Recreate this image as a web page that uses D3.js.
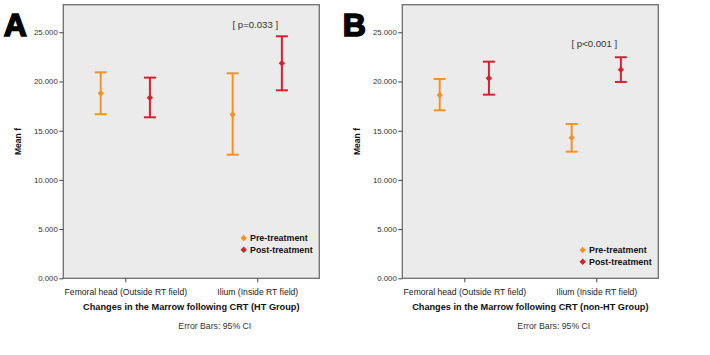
<!DOCTYPE html>
<html><head><meta charset="utf-8">
<script src="https://cdn.jsdelivr.net/npm/d3@7"></script>
<style>
html,body{margin:0;padding:0;background:#fff;}
svg{display:block;font-family:"Liberation Sans",Arial,sans-serif;}
</style></head>
<body><svg id="chart" width="710" height="355"></svg>
<script>
// ---- data ----
const categories = ["Femoral head (Outside RT field)", "Ilium (Inside RT field)"];
const seriesNames = ["Pre-treatment", "Post-treatment"];
const yTicks = [0, 5, 10, 15, 20, 25];
const panelLetters = ["A", "B"];
const panelTitles = ["Changes in the Marrow following CRT (HT Group)", "Changes in the Marrow following CRT (non-HT Group)"];
const pLabels = ["[ p=0.033 ]", "[ p<0.001 ]"];
// Panel A (HT group): [femoral, ilium]
const aPreMean = [18.8, 16.65];
const aPreLow  = [16.67, 12.56];
const aPreHigh = [20.93, 20.83];
const aPostMean = [18.35, 21.85];
const aPostLow  = [16.36, 19.1];
const aPostHigh = [20.39, 24.59];
// Panel B (non-HT group)
const bPreMean = [18.63, 14.29];
const bPreLow  = [17.07, 12.87];
const bPreHigh = [20.25, 15.68];
const bPostMean = [20.33, 21.2];
const bPostLow  = [18.66, 19.95];
const bPostHigh = [22.01, 22.46];

const colors = {"Pre-treatment": "#f39325", "Post-treatment": "#d81f30"};

const panels = [
  {letter: panelLetters[0], title: panelTitles[0], p: pLabels[0], left: 63.3, pGap: 8,
   series: [
     {name: seriesNames[0], mean: aPreMean, low: aPreLow, high: aPreHigh},
     {name: seriesNames[1], mean: aPostMean, low: aPostLow, high: aPostHigh}],
   legendY: 238},
  {letter: panelLetters[1], title: panelTitles[1], p: pLabels[1], left: 402.3, pGap: 10.5,
   series: [
     {name: seriesNames[0], mean: bPreMean, low: bPreLow, high: bPreHigh},
     {name: seriesNames[1], mean: bPostMean, low: bPostLow, high: bPostHigh}],
   legendY: 250}
];

const svg = d3.select("#chart");
const plotTop = 4.7, plotBottom = 278.3, W = 256;
const y = d3.scaleLinear().domain([0, 27.8]).range([plotBottom, plotTop]);
const diamond = d3.symbol().type(d3.symbolDiamond2).size(26);

panels.forEach(pn => {
  const L = pn.left, R = L + W;
  const g = svg.append("g");
  const x = d3.scalePoint().domain(categories).range([L, R]).padding(0.47);
  const xs = d3.scalePoint().domain(seriesNames).range([-24.6, 24.6]);

  g.append("rect").attr("x", L).attr("y", plotTop).attr("width", W).attr("height", plotBottom - plotTop)
    .attr("fill", "#ebebeb").attr("stroke", "#6e6e6e").attr("stroke-width", 1.3);

  // y axis
  const ya = g.append("g").attr("transform", `translate(${L},0)`)
    .call(d3.axisLeft(y).tickValues(yTicks).tickFormat(d3.format(".3f")).tickSize(4).tickPadding(1.5));
  ya.select(".domain").remove();
  ya.selectAll("line").attr("stroke", "#444");
  ya.selectAll("text").attr("font-size", 7.8).attr("fill", "#333").attr("font-family", "Liberation Sans, Arial");

  // x axis
  const xa = g.append("g").attr("transform", `translate(0,${plotBottom})`)
    .call(d3.axisBottom(x).tickSize(4).tickPadding(7));
  xa.select(".domain").remove();
  xa.selectAll("line").attr("stroke", "#444");
  xa.selectAll("text").attr("font-size", 8.6).attr("fill", "#222").attr("font-family", "Liberation Sans, Arial");

  // error bars
  pn.series.forEach(s => {
    const c = colors[s.name];
    categories.forEach((cat, i) => {
      const cx = x(cat) + xs(s.name);
      g.append("line").attr("x1", cx).attr("x2", cx).attr("y1", y(s.low[i])).attr("y2", y(s.high[i]))
        .attr("stroke", c).attr("stroke-width", 2);
      [s.low[i], s.high[i]].forEach(v => {
        g.append("line").attr("x1", cx - 6).attr("x2", cx + 6).attr("y1", y(v)).attr("y2", y(v))
          .attr("stroke", c).attr("stroke-width", 2);
      });
      g.append("path").attr("d", diamond).attr("transform", `translate(${cx},${y(s.mean[i])})`).attr("fill", c);
    });
  });

  // p label above Ilium post bar
  const post = pn.series[1];
  g.append("text").attr("x", x(categories[1]) - 2).attr("y", y(post.high[1]) - pn.pGap)
    .attr("text-anchor", "middle").attr("font-size", 9.6).attr("fill", "#333").text(pn.p);

  // legend
  pn.series.forEach((s, k) => {
    const ly = pn.legendY + k * 11.8;
    const lx = R - 75.6;
    g.append("path").attr("d", diamond).attr("transform", `translate(${lx},${ly})`).attr("fill", colors[s.name]);
    g.append("text").attr("x", lx + 6.3).attr("y", ly + 3.2).attr("font-size", 8.9).attr("font-weight", "bold")
      .attr("fill", "#111").text(s.name);
  });

  // titles
  const cx = L + W / 2;
  g.append("text").attr("x", cx).attr("y", 310).attr("text-anchor", "middle").attr("font-size", 9.2)
    .attr("font-weight", "bold").attr("fill", "#111").text(pn.title);
  g.append("text").attr("x", cx + 23.5).attr("y", 328.5).attr("text-anchor", "middle").attr("font-size", 8.7)
    .attr("fill", "#333").text("Error Bars: 95% CI");
  g.append("text").attr("transform", `translate(${L - 42.5},${(plotTop + plotBottom) / 2}) rotate(-90)`)
    .attr("text-anchor", "middle").attr("font-size", 8.6).attr("font-weight", "bold").attr("fill", "#111").text("Mean f");
  g.append("text").attr("x", L - 59.5).attr("y", 36).attr("font-size", 32).attr("font-weight", "bold")
    .attr("fill", "#000").attr("stroke", "#000").attr("stroke-width", 1.6).text(pn.letter);
});
</script></body></html>
